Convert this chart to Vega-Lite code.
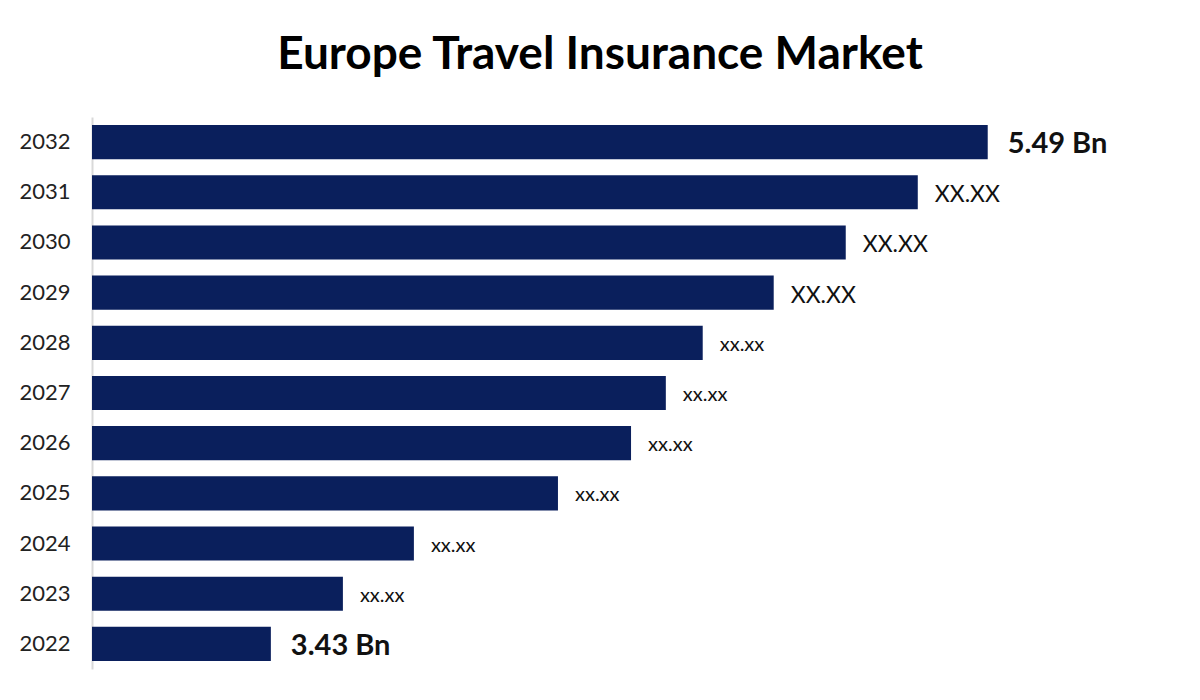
{
  "$schema": "https://vega.github.io/schema/vega-lite/v6.json",
  "autosize": "none",
  "width": 1108,
  "height": 552,
  "padding": {"left": 92, "top": 117, "right": 0, "bottom": 31},
  "background": "white",
  "config": {"view": {"stroke": null}, "font": "Lato"},
  "title": {
    "text": "Europe Travel Insurance Market",
    "font": "Lato",
    "fontSize": 46,
    "fontWeight": "bold",
    "color": "#000000",
    "anchor": "middle",
    "dx": -46,
    "baseline": "alphabetic",
    "offset": 2
  },
  "data": {
    "values": [
      {"year": "2032", "value": 5.49, "label": "5.49 Bn", "style": "bold"},
      {"year": "2031", "value": 5.289, "label": "XX.XX", "style": "large"},
      {"year": "2030", "value": 5.082, "label": "XX.XX", "style": "large"},
      {"year": "2029", "value": 4.875, "label": "XX.XX", "style": "large"},
      {"year": "2028", "value": 4.671, "label": "xx.xx", "style": "small"},
      {"year": "2027", "value": 4.565, "label": "xx.xx", "style": "small"},
      {"year": "2026", "value": 4.465, "label": "xx.xx", "style": "small"},
      {"year": "2025", "value": 4.255, "label": "xx.xx", "style": "small"},
      {"year": "2024", "value": 3.841, "label": "xx.xx", "style": "small"},
      {"year": "2023", "value": 3.637, "label": "xx.xx", "style": "small"},
      {"year": "2022", "value": 3.43, "label": "3.43 Bn", "style": "bold"}
    ]
  },
  "encoding": {
    "y": {
      "field": "year",
      "type": "nominal",
      "sort": "descending",
      "scale": {"paddingInner": 0.32, "paddingOuter": 0.16},
      "axis": {
        "title": null,
        "ticks": false,
        "domain": true,
        "domainColor": "#d9d9d9",
        "domainWidth": 2,
        "labelFont": "Lato",
        "labelFontSize": 22,
        "labelColor": "#222222",
        "labelPadding": 22
      }
    },
    "x": {
      "field": "value",
      "type": "quantitative",
      "scale": {"domain": [2.916, 6.1], "zero": false, "nice": false},
      "axis": null
    }
  },
  "layer": [
    {"mark": {"type": "bar", "color": "#0a1f5c", "clip": true}},
    {
      "transform": [{"filter": "datum.style === 'bold'"}],
      "mark": {"type": "text", "align": "left", "baseline": "middle", "dx": 20, "dy": 2, "fontSize": 29, "fontWeight": "bold", "color": "#111111"},
      "encoding": {"text": {"field": "label"}}
    },
    {
      "transform": [{"filter": "datum.style === 'large'"}],
      "mark": {"type": "text", "align": "left", "baseline": "middle", "dx": 17, "dy": 3, "fontSize": 23, "color": "#111111"},
      "encoding": {"text": {"field": "label"}}
    },
    {
      "transform": [{"filter": "datum.style === 'small'"}],
      "mark": {"type": "text", "align": "left", "baseline": "middle", "dx": 17, "dy": 2, "fontSize": 20, "color": "#111111"},
      "encoding": {"text": {"field": "label"}}
    }
  ]
}
